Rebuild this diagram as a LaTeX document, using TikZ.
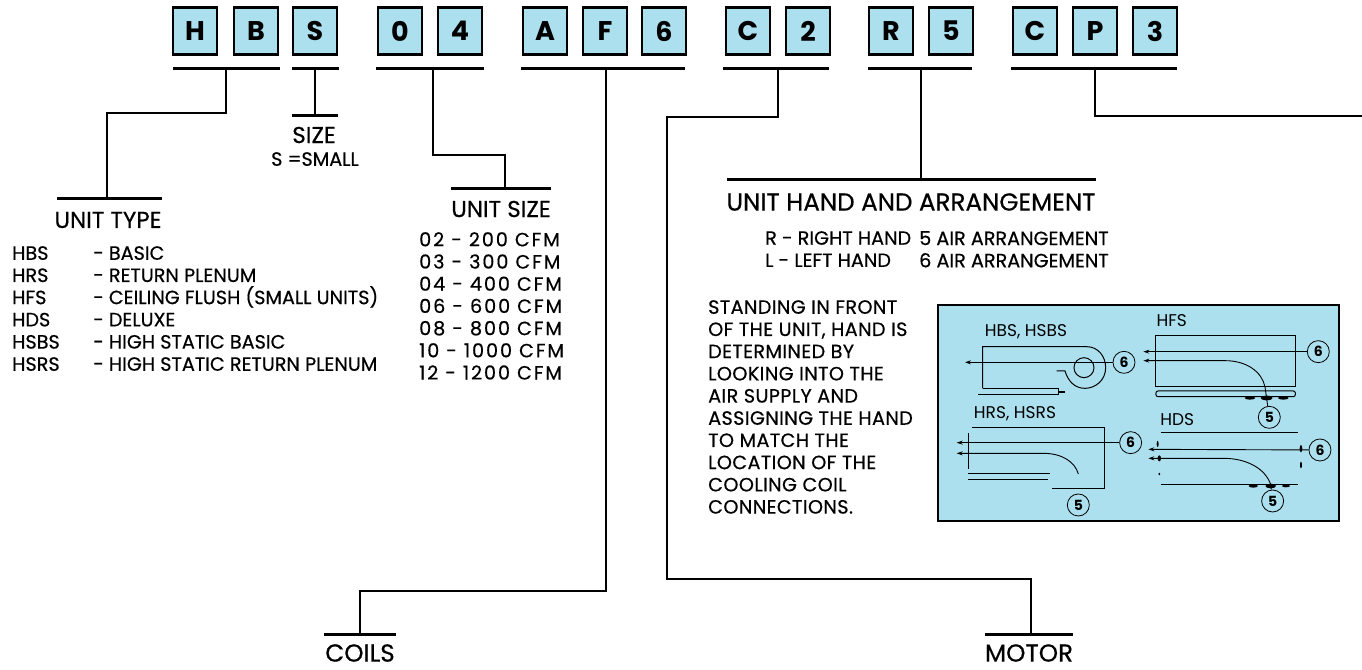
\documentclass[tikz,border=0pt]{standalone}
\usepackage{fontspec}
\setmainfont{Poppins}
\newfontfamily\medfont{Poppins}[FakeBold=0.5]
\newfontfamily\widefont{Poppins}[FakeBold=0.5,LetterSpace=10]
\newfontfamily\notefont{Poppins}[FakeBold=0.5,LetterSpace=2]
\usepackage{xcolor}
\definecolor{hvblue}{RGB}{172, 224, 238}
\usetikzlibrary{arrows.meta, positioning, shapes.geometric}
\tikzset{
  letterbox/.style={draw=black, fill=hvblue, line width=2.4pt, inner sep=0pt, minimum width=44pt, minimum height=47pt, font=\fontsize{27}{27}\selectfont\bfseries},
  barline/.style={fill=black, inner sep=0pt, outer sep=0pt, minimum height=3pt},
  stem/.style={line width=2.4pt, line join=miter},
  heading/.style={inner sep=0pt, font=\medfont\fontsize{23}{26}\selectfont},
  headingwide/.style={inner sep=0pt, font=\medfont\fontsize{24.6}{26}\selectfont},
  listtext/.style={inner sep=0pt, align=left, anchor=north west, font=\medfont\fontsize{19.2}{22.2}\selectfont},
  notetext/.style={inner sep=0pt, align=left, anchor=north west, font=\notefont\fontsize{19.2}{22.2}\selectfont},
  sizetext/.style={inner sep=0pt, align=left, anchor=north west, font=\widefont\fontsize{19.2}{22.2}\selectfont},
  casing/.style={line width=1pt},
  airline/.style={line width=0.9pt, -{Stealth[length=6pt,width=4pt]}},
  numcircle/.style={circle, draw=black, line width=0.8pt, fill=hvblue, inner sep=0pt, minimum size=22pt, font=\fontsize{14}{14}\selectfont\bfseries},
  panellabel/.style={inner sep=0pt, font=\fontsize{17}{17}\selectfont}
}
\begin{document}
\begin{tikzpicture}[x=1pt, y=-1pt]
  \useasboundingbox (0,0) rectangle (1362,669);

  % Model number boxes
  \node[letterbox] (boxh) at (195,31) {H};
  \node[letterbox] (boxb) at (256,31) {B};
  \node[letterbox] (boxs) at (315,31) {S};
  \node[letterbox] (box0) at (400,31) {0};
  \node[letterbox] (box4) at (460,31) {4};
  \node[letterbox] (boxa) at (545,31) {A};
  \node[letterbox] (boxf) at (605,31) {F};
  \node[letterbox] (box6) at (664,31) {6};
  \node[letterbox] (boxc) at (748,31) {C};
  \node[letterbox] (box2) at (808,31) {2};
  \node[letterbox] (boxr) at (891,31) {R};
  \node[letterbox] (box5) at (951,31) {5};
  \node[letterbox] (boxd) at (1035,31) {C};
  \node[letterbox] (boxp) at (1095,31) {P};
  \node[letterbox] (box3) at (1155,31) {3};

  % Bars under the boxes
  \node[barline, minimum width=107pt] (hbbar) at (226,69) {};
  \node[barline, minimum width=47pt]  (sbar)  at (315,69) {};
  \node[barline, minimum width=108pt] (nobar) at (430,69) {};
  \node[barline, minimum width=164pt] (afbar) at (603,69) {};
  \node[barline, minimum width=106pt] (c2bar) at (776,69) {};
  \node[barline, minimum width=104pt] (r5bar) at (920,69) {};
  \node[barline, minimum width=166pt] (cpbar) at (1094,69) {};

  % Bars over the headings
  \node[barline, minimum width=105pt] (typebar)  at (109,198) {};
  \node[barline, minimum width=46pt]  (sizebar)  at (315,115) {};
  \node[barline, minimum width=100pt] (unitbar)  at (501,188) {};
  \node[barline, minimum width=369pt] (handbar)  at (911,179) {};
  \node[barline, minimum width=72pt]  (coilbar)  at (360,634) {};
  \node[barline, minimum width=88pt]  (motorbar) at (1029,634) {};
  \coordinate (cpend) at (1362,116);

  % Connectors
  \draw[stem] (hbbar.south) |- (107,113) -- (typebar.north -| 107,0);
  \draw[stem] (sbar.south) -- (sizebar.north);
  \draw[stem] ([xshift=3pt]nobar.south) |- (505,155) -- (unitbar.north -| 505,0);
  \draw[stem] ([xshift=3pt]afbar.south) |- (360,591) -- (coilbar.north);
  \draw[stem] ([xshift=2pt]c2bar.south) |- (667,117) |- (1031,579) -- (motorbar.north -| 1031,0);
  \draw[stem] ([xshift=1pt]r5bar.south) -- (handbar.north -| 921,0);
  \draw[stem] ([xshift=1pt]cpbar.south) |- (cpend);

  % Headings
  \node[heading] (typehead)  at (108,220) {UNIT TYPE};
  \node[heading] (sizehead)  at (314,135) {SIZE};
  \node[heading] (unithead)  at (501,209) {UNIT SIZE};
  \node[headingwide] (handhead)  at (911,202) {UNIT HAND AND ARRANGEMENT};
  \node[headingwide] (coilhead)  at (360,653) {COILS};
  \node[headingwide] (motorhead) at (1029,653) {MOTOR};

  % Unit type
  \node[listtext] (sizetext) at (271,152) {S =SMALL};
  \node[listtext] (typecodes) at (12,246) {HBS\\HRS\\HFS\\HDS\\HSBS\\HSRS};
  \node[listtext] (typenames) at (93,246) {- BASIC\\- RETURN PLENUM\\- CEILING FLUSH (SMALL UNITS)\\- DELUXE\\- HIGH STATIC BASIC\\- HIGH STATIC RETURN PLENUM};

  % Unit size
  \node[sizetext] (sizelist) at (419,232) {02 - 200 CFM\\03 - 300 CFM\\04 - 400 CFM\\06 - 600 CFM\\08 - 800 CFM\\10 - 1000 CFM\\12 - 1200 CFM};

  % Hand and arrangement
  \node[listtext] (handlist) at (765,231) {R - RIGHT HAND\\L - LEFT HAND};
  \node[listtext] (airlist) at (919,231) {5 AIR ARRANGEMENT\\6 AIR ARRANGEMENT};
  \node[notetext] (handnote) at (708,300) {STANDING IN FRONT\\OF THE UNIT, HAND IS\\DETERMINED BY\\LOOKING INTO THE\\AIR SUPPLY AND\\ASSIGNING THE HAND\\TO MATCH THE\\LOCATION OF THE\\COOLING COIL\\CONNECTIONS.};

  % Arrangement panel
  \draw[fill=hvblue, draw=black, line width=2.4pt] (938,305) rectangle (1339,521);
  \begin{scope}[shift={(930,295)}, x=0.3333pt, y=-0.3333pt]
    % HBS, HSBS
    \node[panellabel] (hbslabel) at (288,110) {HBS, HSBS};
    \node[numcircle] (sixa) at (582,202) {6};
    \coordinate (tipa) at (105,202);
    \draw[casing] (158,280) -- (158,155) -- (470,155) .. controls (505,155) and (527,185) .. (527,218)
       .. controls (527,255) and (497,280) .. (465,280) .. controls (435,280) and (415,260) .. (405,228) -- (380,228);
    \draw[casing] (462,218) circle[radius=30];
    \draw[casing] (158,280) -- (385,280) -- (385,298) -- (145,298);
    \draw[line width=1.6pt] (385,291) -- (405,291);
    \draw[airline] (sixa) -- (tipa);

    % HFS
    \node[panellabel] (hfslabel) at (725,78) {HFS};
    \node[numcircle] (sixb) at (1165,170) {6};
    \node[numcircle] (fiveb) at (1018,367) {5};
    \coordinate (tipb) at (640,170);
    \coordinate (tipc) at (640,197);
    \draw[casing] (678,122) rectangle (1096,275);
    \draw[casing, rounded corners=2pt] (678,288) rectangle (1096,305);
    \draw[airline] (sixb) -- (tipb);
    \draw[airline] (fiveb) -- (1005,275) .. controls (995,230) and (950,197) .. (885,197) -- (tipc);
    \fill (960,309) ellipse (16 and 5);
    \fill (1010,309) ellipse (18 and 7);
    \fill (1060,309) ellipse (16 and 5);

    % HRS, HSRS
    \node[panellabel] (hrslabel) at (255,355) {HRS, HSRS};
    \node[numcircle] (sixc) at (602,443) {6};
    \node[numcircle] (fivec) at (445,630) {5};
    \coordinate (tipd) at (80,443);
    \coordinate (tipe) at (80,475);
    \draw[casing] (125,397) -- (525,397) -- (525,580) -- (365,580);
    \draw[casing] (115,415) -- (115,522);
    \draw[casing] (115,537) -- (360,537);
    \draw[casing] (115,553) -- (355,553);
    \draw[airline] (sixc) -- (tipd);
    \draw[airline] (445,537) .. controls (435,500) and (395,475) .. (340,475) -- (tipe);

    % HDS
    \node[panellabel] (hdslabel) at (742,375) {HDS};
    \node[numcircle] (sixd) at (1170,465) {6};
    \node[numcircle] (fived) at (1028,618) {5};
    \coordinate (tipf) at (655,463);
    \coordinate (tipg) at (655,490);
    \draw[casing] (692,412) -- (1105,412);
    \draw[casing] (693,568) -- (1105,568);
    \draw[airline] (sixd) -- (tipf);
    \draw[airline] (fived) -- (1022,568) .. controls (1005,520) and (950,490) .. (880,490) -- (tipg);
    \fill (970,573) ellipse (14 and 5);
    \fill (1022,573) ellipse (16 and 7);
    \fill (1068,573) ellipse (12 and 4);
    \fill (683,447) ellipse (3 and 9);
    \fill (688,490) ellipse (5 and 9);
    \fill (688,537) ellipse (3 and 4);
    \fill (1113,461) ellipse (4 and 11);
    \fill (1113,510) ellipse (3 and 10);
  \end{scope}
\end{tikzpicture}
\end{document}
